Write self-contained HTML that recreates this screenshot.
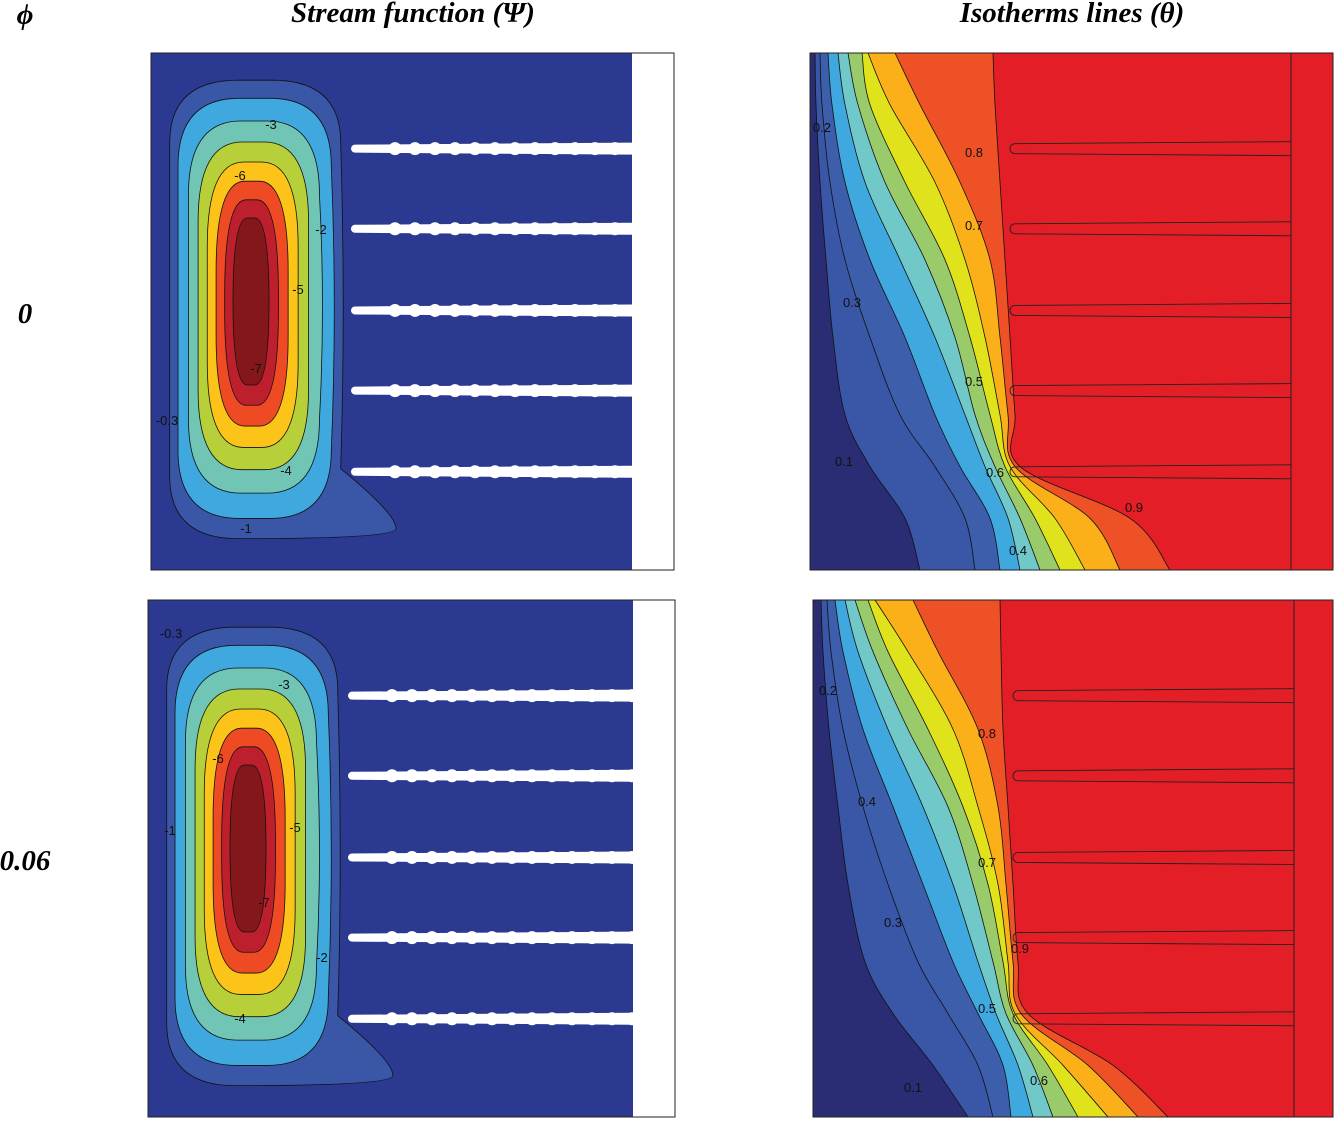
<!DOCTYPE html>
<html><head><meta charset="utf-8"><style>
body{margin:0;background:#fff;width:1344px;height:1130px;overflow:hidden;font-family:"Liberation Serif",serif}
svg{position:absolute;left:0;top:0}
</style></head><body>
<svg id="s" width="1344" height="1130" xmlns="http://www.w3.org/2000/svg">
<g font-family="Liberation Serif, serif" font-style="italic" font-weight="bold" font-size="29">
<text x="25" y="24" text-anchor="middle">ϕ</text>
<text x="413" y="22" text-anchor="middle">Stream function (Ψ)</text>
<text x="1072" y="22" text-anchor="middle">Isotherms lines (θ)</text>
<text x="25" y="323" text-anchor="middle">0</text>
<text x="25" y="870" text-anchor="middle">0.06</text>
</g>
<g id="panels"></g>
</svg>
<script>
const psiLevels=[-0.3,-1,-2,-3,-4,-5,-6,-7];
const psiColors=["#3a56a6","#3fa8df","#71c5b5","#b7d03a","#fcc318","#ee4b24","#bd1f2d","#83171a"];
const psiBg="#2b3990";
const thetaLevels=[0.1,0.2,0.3,0.4,0.5,0.6,0.7,0.8,0.9];
const thetaColors=["#3a56a6","#3c5eab","#3fa8df","#70c8c8","#9acb6b","#e0e31b","#fbb01a","#ef5126","#e31e26"];
const thetaBg="#2a2c74";
const tFrac=[0,0.1,0.25,0.4,0.55,0.7,0.8,0.9,1];
const thetaTop=[
 [815,816,820,826,833,845,870,905,920],
 [820,822,830,845,870,900,935,965,975],
 [828,832,845,870,905,935,960,990,1000],
 [838,845,865,900,935,965,985,1008,1020],
 [848,858,885,925,955,975,995,1020,1040],
 [862,870,905,945,970,990,1005,1035,1060],
 [868,890,935,965,985,1000,1010,1055,1085],
 [895,920,960,990,1000,1008,1015,1090,1120],
 [993,995,1000,1005,1010,1015,1020,1130,1170]];
const thetaBot=[
 [818,820,826,835,845,862,890,930,965],
 [824,828,840,860,885,915,945,975,990],
 [832,840,860,890,920,950,975,1000,1008],
 [842,855,885,920,950,975,993,1015,1030],
 [852,870,905,945,970,990,1003,1030,1050],
 [865,885,925,960,985,1000,1010,1045,1075],
 [872,905,950,975,995,1005,1012,1060,1105],
 [910,935,975,995,1003,1010,1018,1085,1135],
 [997,998,1000,1005,1010,1015,1025,1110,1165]];
const finYfrac=[0.185,0.34,0.498,0.653,0.81];
const NS="http://www.w3.org/2000/svg";
const root=document.getElementById('panels');
function el(t,a,p){const e=document.createElementNS(NS,t);for(const k in a)e.setAttribute(k,a[k]);(p||root).appendChild(e);return e;}
function smooth(pts){let d="M"+pts[0][0]+","+pts[0][1];for(let i=0;i<pts.length-1;i++){const p0=pts[Math.max(i-1,0)],p1=pts[i],p2=pts[i+1],p3=pts[Math.min(i+2,pts.length-1)];d+=" C"+(p1[0]+(p2[0]-p0[0])/6)+","+(p1[1]+(p2[1]-p0[1])/6)+" "+(p2[0]-(p3[0]-p1[0])/6)+","+(p2[1]-(p3[1]-p1[1])/6)+" "+p2[0]+","+p2[1];}return d;}
function streamPanel(x0,y0,w,h,name,labels){
 const g=el('g',{});
 el('rect',{x:x0,y:y0,width:w,height:h,fill:psiBg},g);
 el('rect',{x:x0+w-42,y:y0,width:42,height:h,fill:"#fff"},g);
 const outer={l:x0+14,r:x0+195,t:y0+17,b:y0+497};
 const inner={l:x0+82,r:x0+118,t:y0+165,b:y0+332};
 psiLevels.forEach((lv,i)=>{
  const f=Math.pow(Math.abs(lv)/7,0.85);
  const l=outer.l+(inner.l-outer.l)*f,r=outer.r+(inner.r-outer.r)*f,t=outer.t+(inner.t-outer.t)*f,b=outer.b+(inner.b-outer.b)*f;
  const rx=(r-l)/2*0.8,ry=Math.min((b-t)/2,60+40*f);
  let d;
  if(i===0){const tx=x0+245;d=`M${l+rx},${t} L${r-rx},${t} Q${r},${t} ${r},${t+ry} Q${r+5},${(t+b)/2} ${r},${b-70} Q${tx},${b-25} ${tx},${b-10} Q${tx},${b} ${l+rx},${b} Q${l},${b} ${l},${b-ry} L${l},${t+ry} Q${l},${t} ${l+rx},${t} Z`;}
  else{const wv=i<3?6:0;d=`M${l+rx},${t} L${r-rx},${t} Q${r},${t} ${r},${t+ry} Q${r+wv},${(t+b)/2} ${r},${b-ry} Q${r},${b} ${r-rx},${b} L${l+rx},${b} Q${l},${b} ${l},${b-ry} L${l},${t+ry} Q${l},${t} ${l+rx},${t} Z`;}
  const p=el('path',{d,fill:psiColors[i],stroke:"#111","stroke-width":0.8},g);
  
 });
 finYfrac.forEach((fy,k)=>{
  const y=y0+h*fy,x1=x0+199,x2=x0+w-42;
  const f=el('path',{d:`M${x1+5},${y-4} L${x2},${y-6} L${x2},${y+6} L${x1+5},${y+4} A4,4 0 0 1 ${x1+5},${y-4} Z`,fill:"#fff"},g);
  
  for(let j=0;j<13;j++){el('circle',{cx:x1+45+j*20,cy:y,r:6.5,fill:"#fff"},g);}
 });
 labels.forEach(L=>{const t=el('text',{x:L[0],y:L[1],"font-family":"Liberation Sans, sans-serif","font-size":13,fill:"#111","text-anchor":"middle"},g);t.textContent=L[2];});
 el('rect',{x:x0,y:y0,width:w,height:h,fill:"none",stroke:"#222","stroke-width":1},g);
}
function thetaPanel(x0,y0,w,h,bounds,dx,name,labels){
 const g=el('g',{});
 el('rect',{x:x0,y:y0,width:w,height:h,fill:thetaBg},g);
 const xr=x0+w;
 thetaLevels.forEach((lv,i)=>{
  const pts=bounds[i].map((x,k)=>[x+dx,y0+tFrac[k]*h]);
  const d=smooth(pts)+` L${xr},${y0+h} L${xr},${y0} Z`;
  const p=el('path',{d,fill:thetaColors[i],stroke:"#111","stroke-width":0.8},g);
  
 });
 el('line',{x1:x0+481,y1:y0,x2:x0+481,y2:y0+h,stroke:"#222","stroke-width":1},g);
 finYfrac.forEach((fy,k)=>{
  const y=y0+h*fy;
  const f=el('path',{d:`M${x0+205},${y-5} L${x0+481},${y-7} M${x0+205},${y+5} L${x0+481},${y+7} M${x0+205},${y-5} A5,5 0 0 0 ${x0+205},${y+5}`,stroke:"#222",fill:"none","stroke-width":0.9},g);
  
 });
 labels.forEach(L=>{const t=el('text',{x:L[0],y:L[1],"font-family":"Liberation Sans, sans-serif","font-size":13,fill:"#111","text-anchor":"middle"},g);t.textContent=L[2];});
 el('rect',{x:x0,y:y0,width:w,height:h,fill:"none",stroke:"#222","stroke-width":1},g);
}
streamPanel(151,53,523,517,'stream-panel-phi0',[[271,129,'-3'],[240,180,'-6'],[321,234,'-2'],[298,294,'-5'],[256,373,'-7'],[167,425,'-0.3'],[286,475,'-4'],[246,533,'-1']]);
streamPanel(148,600,527,517,'stream-panel-phi006',[[171,638,'-0.3'],[284,689,'-3'],[218,763,'-6'],[170,835,'-1'],[295,832,'-5'],[264,907,'-7'],[322,962,'-2'],[240,1023,'-4']]);
thetaPanel(810,53,523,517,thetaTop,0,'isotherm-panel-phi0',[[822,132,'0.2'],[974,157,'0.8'],[974,230,'0.7'],[852,307,'0.3'],[974,386,'0.5'],[844,466,'0.1'],[995,477,'0.6'],[1134,512,'0.9'],[1018,555,'0.4']]);
thetaPanel(813,600,520,517,thetaBot,3,'isotherm-panel-phi006',[[828,695,'0.2'],[987,738,'0.8'],[867,806,'0.4'],[987,867,'0.7'],[893,927,'0.3'],[1020,953,'0.9'],[987,1013,'0.5'],[1039,1085,'0.6'],[913,1092,'0.1']]);
</script>
</body></html>
